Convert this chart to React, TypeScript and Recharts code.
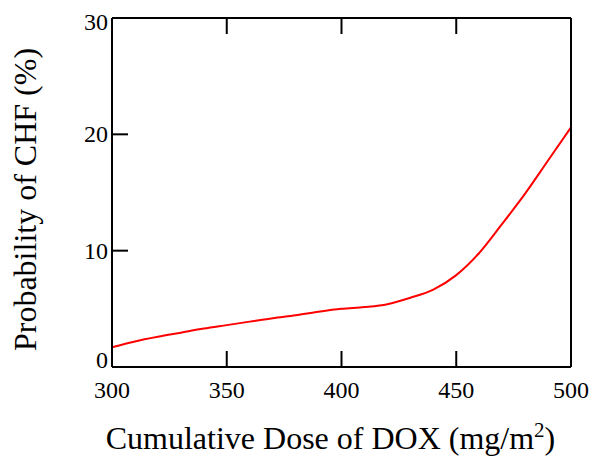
import { LineChart, Line, XAxis, YAxis, Label } from 'recharts';

const doses = [300, 310, 320, 330, 340, 350, 360, 370, 380, 390, 400, 410, 420, 430, 440, 450, 460, 470, 480, 490, 500];
const chfProb = [1.7, 2.2, 2.6, 2.95, 3.3, 3.6, 3.9, 4.2, 4.45, 4.75, 5.0, 5.15, 5.4, 5.95, 6.65, 7.9, 9.8, 12.3, 14.9, 17.75, 20.6];
const xTicks = [300, 350, 400, 450, 500];
const yTicks = [0, 10, 20, 30];

const data = doses.map((dose, i) => ({ dose, prob: chfProb[i] }));

const FONT = '"Liberation Serif", "Times New Roman", serif';
const TICK_LEN = 16;

function BottomTick({ x, y, payload }: any) {
  return (
    <g>
      <line x1={x} y1={y} x2={x} y2={y - TICK_LEN} stroke="#000" strokeWidth={2} />
      <text x={x} y={y + 31} textAnchor="middle" fontFamily={FONT} fontSize={24} fill="#000">
        {payload.value}
      </text>
    </g>
  );
}

function TopTick({ x, y }: any) {
  return <line x1={x} y1={y} x2={x} y2={y + TICK_LEN} stroke="#000" strokeWidth={2} />;
}

function LeftTick({ x, y, payload }: any) {
  // end labels are nudged inward like the original
  const dy = payload.value === 0 ? 1 : payload.value === 30 ? 12 : 8;
  return (
    <g>
      <line x1={x} y1={y} x2={x + TICK_LEN} y2={y} stroke="#000" strokeWidth={2} />
      <text x={x - 4} y={y + dy} textAnchor="end" fontFamily={FONT} fontSize={24} fill="#000">
        {payload.value}
      </text>
    </g>
  );
}

function RightTick({ x, y }: any) {
  return <line x1={x} y1={y} x2={x - TICK_LEN} y2={y} stroke="#000" strokeWidth={2} />;
}

function XTitle({ viewBox }: any) {
  const cx = viewBox.x + viewBox.width / 2 - 11;
  const by = viewBox.y + 82;
  return (
    <text x={cx} y={by} textAnchor="middle" fontFamily={FONT} fontSize={32} fill="#000">
      Cumulative Dose of DOX (mg/m
      <tspan fontSize={21} dy={-12}>2</tspan>
      <tspan dy={12}>)</tspan>
    </text>
  );
}

function YTitle({ viewBox }: any) {
  const bx = viewBox.x + 36;
  const cy = viewBox.y + viewBox.height / 2 + 7;
  return (
    <text
      x={bx}
      y={cy}
      transform={`rotate(-90, ${bx}, ${cy})`}
      textAnchor="middle"
      fontFamily={FONT}
      fontSize={32}
      fill="#000"
    >
      Probability of CHF (%)
    </text>
  );
}

export default function App() {
  return (
    <div style={{ position: 'absolute', left: 0, top: 0, width: 592, height: 465, background: '#fff' }}>
      <LineChart width={592} height={465} data={data} margin={{ top: 17, right: 1, bottom: 0, left: 0 }}>
        <XAxis
          dataKey="dose"
          type="number"
          domain={[300, 500]}
          ticks={xTicks}
          height={98}
          tickSize={0}
          tickMargin={0}
          tick={<BottomTick />}
          axisLine={{ stroke: '#000', strokeWidth: 2 }}
          interval={0}
        >
          <Label content={<XTitle />} />
        </XAxis>
        <XAxis
          xAxisId="top"
          orientation="top"
          dataKey="dose"
          type="number"
          domain={[300, 500]}
          ticks={xTicks}
          height={1}
          tickSize={0}
          tickMargin={0}
          tick={<TopTick />}
          axisLine={{ stroke: '#000', strokeWidth: 2 }}
          interval={0}
        />
        <YAxis
          type="number"
          domain={[0, 30]}
          ticks={yTicks}
          width={112}
          tickSize={0}
          tickMargin={0}
          tick={<LeftTick />}
          axisLine={{ stroke: '#000', strokeWidth: 2 }}
          interval={0}
        >
          <Label content={<YTitle />} />
        </YAxis>
        <YAxis
          yAxisId="right"
          orientation="right"
          type="number"
          domain={[0, 30]}
          ticks={yTicks}
          width={20}
          tickSize={0}
          tickMargin={0}
          tick={<RightTick />}
          axisLine={{ stroke: '#000', strokeWidth: 2 }}
          interval={0}
        />
        <Line
          type="monotone"
          dataKey="prob"
          stroke="#ff0000"
          strokeWidth={2}
          dot={false}
          isAnimationActive={false}
        />
      </LineChart>
    </div>
  );
}
